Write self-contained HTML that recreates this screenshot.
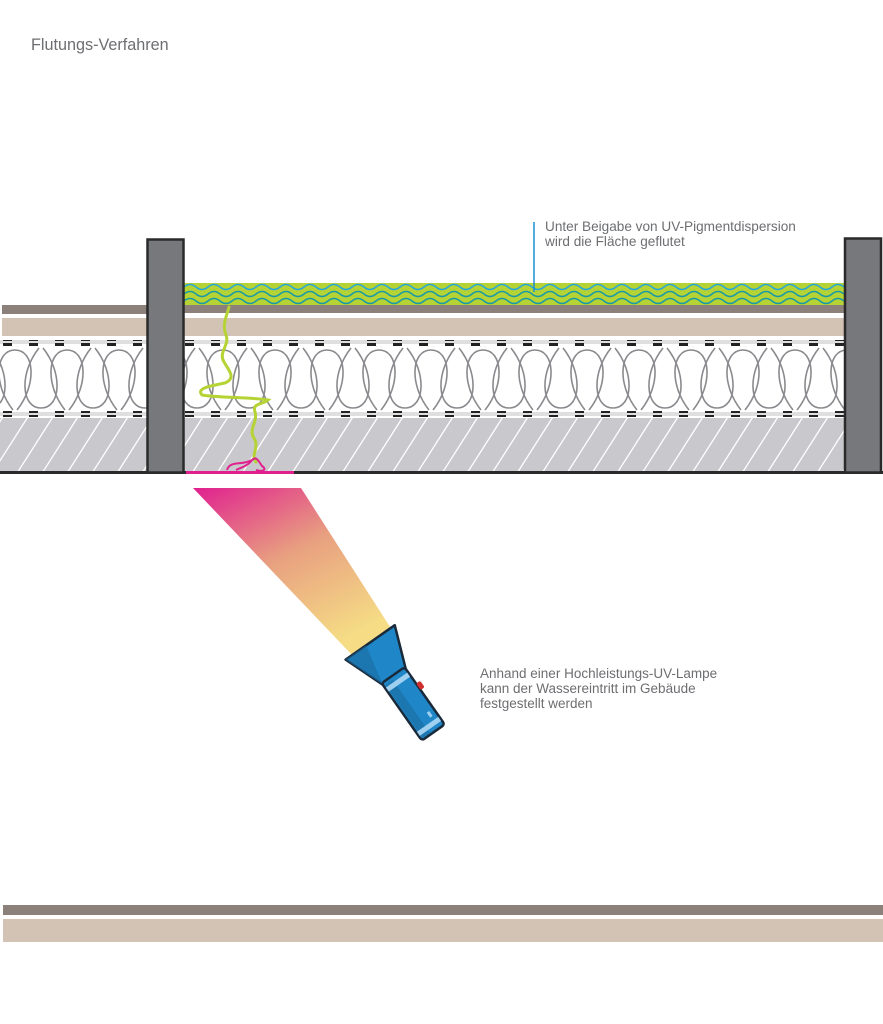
<!DOCTYPE html>
<html><head><meta charset="utf-8"><style>
html,body{margin:0;padding:0;background:#fff;}
svg{display:block;}
text{font-family:"Liberation Sans",sans-serif;fill:#6d6e71;}
</style></head><body>
<svg width="883" height="1024" viewBox="0 0 883 1024" xmlns="http://www.w3.org/2000/svg">
<defs>
<pattern id="hatch" x="0" y="418" width="25" height="54" patternUnits="userSpaceOnUse">
<rect width="25" height="54" fill="#c9c9cd"/>
<line x1="-20" y1="74" x2="40" y2="-20" stroke="#fff" stroke-width="1.3"/>
<line x1="5" y1="74" x2="65" y2="-20" stroke="#fff" stroke-width="1.3"/>
<line x1="-45" y1="74" x2="15" y2="-20" stroke="#fff" stroke-width="1.3"/>
</pattern>
<pattern id="dash" x="0" y="0" width="26" height="6" patternUnits="userSpaceOnUse">
<rect width="26" height="6" fill="#fff"/>
<line x1="0" y1="1" x2="26" y2="1" stroke="#aaa" stroke-width="0.8"/>
<line x1="0" y1="5" x2="26" y2="5" stroke="#aaa" stroke-width="0.8"/>
<rect x="3" y="1" width="9" height="4" fill="#222"/>
</pattern>
<g id="up"><path d="M-2,63 C-22,38 -20,3 0,3 C20,3 22,38 2,63" fill="none" stroke="#8a8a8e" stroke-width="1.6"/></g>
<g id="dn"><path d="M-2,1 C-22,26 -20,61 0,61 C20,61 22,26 2,1" fill="none" stroke="#8a8a8e" stroke-width="1.6"/></g>
<pattern id="loops" x="2" y="347" width="52" height="64" patternUnits="userSpaceOnUse">
<use href="#up" x="13"/><use href="#up" x="65"/><use href="#up" x="-39"/>
<use href="#dn" x="39"/><use href="#dn" x="-13"/><use href="#dn" x="91"/>
</pattern>
<linearGradient id="beam" x1="0" y1="0" x2="0.6" y2="1">
<stop offset="0" stop-color="#e0208f"/>
<stop offset="0.5" stop-color="#e8a080"/>
<stop offset="1" stop-color="#f5dc85"/>
</linearGradient>
</defs>

<text x="31" y="50" font-size="16.2">Flutungs-Verfahren</text>

<rect x="2" y="305" width="145" height="9" fill="#8b807a"/>
<rect x="2" y="318" width="145" height="18" fill="#d3c3b5"/>
<rect x="184" y="305" width="660" height="8" fill="#8b807a"/>
<rect x="184" y="318" width="660" height="18" fill="#d3c3b5"/>

<rect x="0" y="340" width="844" height="6" fill="url(#dash)"/>
<rect x="0" y="411" width="844" height="6" fill="url(#dash)"/>
<rect x="0" y="346" width="844" height="65" fill="url(#loops)"/>
<rect x="0" y="418" width="844" height="54" fill="url(#hatch)"/>
<rect x="0" y="471" width="883" height="3" fill="#2a2a2a"/>

<rect x="184" y="283" width="660" height="22" fill="#b5d334"/>
<g fill="none" stroke-width="1.5">
<path stroke="#28a8d8" d="M184,287 q6,-5 12,0 t12,0 t12,0 t12,0 t12,0 t12,0 t12,0 t12,0 t12,0 t12,0 t12,0 t12,0 t12,0 t12,0 t12,0 t12,0 t12,0 t12,0 t12,0 t12,0 t12,0 t12,0 t12,0 t12,0 t12,0 t12,0 t12,0 t12,0 t12,0 t12,0 t12,0 t12,0 t12,0 t12,0 t12,0 t12,0 t12,0 t12,0 t12,0 t12,0 t12,0 t12,0 t12,0 t12,0 t12,0 t12,0 t12,0 t12,0 t12,0 t12,0 t12,0 t12,0 t12,0 t12,0 t12,0"/>
<path stroke="#1a9aa8" d="M184,294 q6,-5 12,0 t12,0 t12,0 t12,0 t12,0 t12,0 t12,0 t12,0 t12,0 t12,0 t12,0 t12,0 t12,0 t12,0 t12,0 t12,0 t12,0 t12,0 t12,0 t12,0 t12,0 t12,0 t12,0 t12,0 t12,0 t12,0 t12,0 t12,0 t12,0 t12,0 t12,0 t12,0 t12,0 t12,0 t12,0 t12,0 t12,0 t12,0 t12,0 t12,0 t12,0 t12,0 t12,0 t12,0 t12,0 t12,0 t12,0 t12,0 t12,0 t12,0 t12,0 t12,0 t12,0 t12,0 t12,0"/>
<path stroke="#1a9aa8" d="M184,301 q6,-5 12,0 t12,0 t12,0 t12,0 t12,0 t12,0 t12,0 t12,0 t12,0 t12,0 t12,0 t12,0 t12,0 t12,0 t12,0 t12,0 t12,0 t12,0 t12,0 t12,0 t12,0 t12,0 t12,0 t12,0 t12,0 t12,0 t12,0 t12,0 t12,0 t12,0 t12,0 t12,0 t12,0 t12,0 t12,0 t12,0 t12,0 t12,0 t12,0 t12,0 t12,0 t12,0 t12,0 t12,0 t12,0 t12,0 t12,0 t12,0 t12,0 t12,0 t12,0 t12,0 t12,0 t12,0 t12,0"/>
</g>

<path d="M229,307 C226,318 222,325 226,335 C230,345 218,352 224,362 C230,372 236,378 225,383 C210,386 196,388 202,395 C220,398 250,397 268,400 C262,405 252,403 255,412 C258,422 248,430 254,438 C260,448 250,455 256,462" fill="none" stroke="#b5d334" stroke-width="3" stroke-linecap="round"/>
<path d="M227,470 C230,460 242,466 252,460 C256,456 258,460 262,466 C268,470 262,472 256,470 M252,460 C248,466 240,468 236,470" fill="none" stroke="#e0208f" stroke-width="2"/>
<rect x="186" y="471" width="108" height="3" fill="#e0208f"/>

<rect x="147.5" y="239.5" width="36" height="233" fill="#77787b" stroke="#2a2a2a" stroke-width="2.5"/>
<rect x="845" y="238.5" width="36" height="234" fill="#77787b" stroke="#2a2a2a" stroke-width="2.5"/>

<line x1="534" y1="222" x2="534" y2="292" stroke="#1a8fd0" stroke-width="1.5"/>
<text x="545" y="231" font-size="13.6">Unter Beigabe von UV-Pigmentdispersion</text>
<text x="545" y="246" font-size="13.6">wird die Fläche geflutet</text>

<polygon points="193,488 301,488 392,630 352,655" fill="url(#beam)"/>

<g transform="translate(400,685) rotate(-35)">
<path d="M-30,-52 L30,-52 L14,-10 L-14,-10 Z" fill="#1f87c8" stroke="#1a2a3a" stroke-width="2.5" stroke-linejoin="round"/>
<path d="M-30,-52 L-5,-52 L-14,-10 Z" fill="#1a6aa0" opacity="0.6"/>
<rect x="-14" y="-12" width="28" height="70" rx="3" fill="#1f87c8" stroke="#1a2a3a" stroke-width="2.5"/>
<rect x="-12" y="-8" width="9" height="64" fill="#1a6aa0" opacity="0.6"/>
<rect x="-13" y="-6" width="26" height="5" fill="#9fd0ef"/>
<rect x="-13" y="48" width="26" height="5" fill="#9fd0ef"/>
<rect x="14" y="8" width="5" height="8" rx="2" fill="#d03030"/>
<rect x="6" y="38" width="3" height="6" fill="#9fd0ef"/>
</g>

<text x="480" y="678" font-size="13.5">Anhand einer Hochleistungs-UV-Lampe</text>
<text x="480" y="693" font-size="13.5">kann der Wassereintritt im Gebäude</text>
<text x="480" y="708" font-size="13.5">festgestellt werden</text>

<rect x="3" y="905" width="880" height="10" fill="#8b807a"/>
<rect x="3" y="919" width="880" height="23" fill="#d3c3b5"/>
</svg>
</body></html>
